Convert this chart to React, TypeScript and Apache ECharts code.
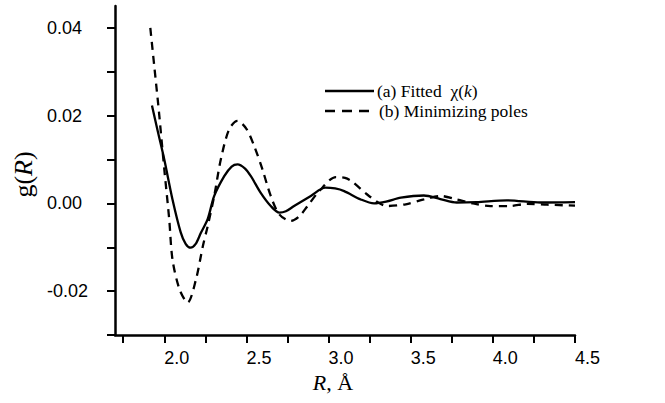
import React, { useEffect, useRef } from "react";
import * as echarts from "echarts";

// Fitted chi(k) curve: [R, g(R)]
const fittedR = [1.925, 1.96, 2.0, 2.05, 2.1, 2.13, 2.16, 2.19, 2.223, 2.264, 2.304, 2.365, 2.41, 2.446, 2.49, 2.527, 2.587, 2.648, 2.7, 2.74, 2.79, 2.892, 2.98, 3.04, 3.095, 3.196, 3.277, 3.35, 3.44, 3.58, 3.68, 3.78, 3.9, 4.085, 4.29, 4.5];
const fittedG = [0.0223, 0.0165, 0.01, 0.0009, -0.0066, -0.0092, -0.0101, -0.0093, -0.0067, -0.0036, 0.0017, 0.0062, 0.0084, 0.0089, 0.008, 0.0062, 0.0024, -0.0006, -0.0021, -0.0018, -0.0006, 0.0017, 0.0036, 0.0034, 0.0028, 0.0009, 0.0, 0.0004, 0.0013, 0.0018, 0.001, 0.0002, 0.0003, 0.0007, 0.0002, 0.0003];

// Minimizing poles curve: [R, g(R)]
const polesR = [1.915, 1.939, 1.96, 1.97, 2.0, 2.03, 2.05, 2.093, 2.142, 2.193, 2.235, 2.264, 2.304, 2.344, 2.395, 2.446, 2.5, 2.547, 2.597, 2.648, 2.7, 2.77, 2.82, 2.872, 2.943, 3.045, 3.1, 3.146, 3.246, 3.358, 3.47, 3.58, 3.68, 3.78, 3.88, 3.985, 4.1, 4.21, 4.33, 4.5];
const polesG = [0.04, 0.0313, 0.0237, 0.0199, 0.0078, -0.0036, -0.0128, -0.0196, -0.0226, -0.0173, -0.0097, -0.0052, 0.0017, 0.01, 0.0169, 0.0188, 0.017, 0.0131, 0.0078, 0.0017, -0.0025, -0.004, -0.003, -0.0006, 0.0028, 0.006, 0.0058, 0.0049, 0.0017, -0.0006, -0.0002, 0.0009, 0.0017, 0.0009, 0.0, -0.0006, -0.0006, -0.0001, -0.0003, -0.0005];

// Axis ticks and labels
const xTickValues = [1.75, 2.0, 2.25, 2.5, 2.75, 3.0, 3.25, 3.5, 3.75, 4.0, 4.25, 4.5];
const xLabelValues = [2.0, 2.5, 3.0, 3.5, 4.0, 4.5];
const yTickValues = [-0.03, -0.02, -0.01, 0.0, 0.01, 0.02, 0.03, 0.04];
const yLabelValues = [-0.02, 0.0, 0.02, 0.04];

const legendNames = ["(a) Fitted  χ(k)", "(b) Minimizing poles"];

export default function App() {
  const ref = useRef<HTMLDivElement>(null);

  useEffect(() => {
    document.body.style.margin = "0";
    const chart = echarts.init(ref.current!, null, { renderer: "svg" });
    const serif = "'Liberation Serif', 'Times New Roman', serif";
    const sans = "'Liberation Sans', Arial, sans-serif";

    chart.setOption({
      animation: false,
      backgroundColor: "#ffffff",
      grid: { left: 115, top: 6, right: 90, bottom: 68, containLabel: false },
      xAxis: {
        type: "value",
        min: 1.7,
        max: 4.5,
        splitLine: { show: false },
        axisLine: { show: true, onZero: false, lineStyle: { color: "#000", width: 2.5 } },
        axisTick: {
          show: true,
          customValues: xTickValues,
          length: 8,
          inside: false,
          lineStyle: { color: "#000", width: 2 },
        },
        axisLabel: {
          customValues: xLabelValues,
          formatter: (v: number) => v.toFixed(1),
          align: "left",
          margin: 14,
          color: "#000",
          fontSize: 18,
          fontFamily: sans,
        },
        name: "{i|R}{n|, Å}",
        nameLocation: "middle",
        nameGap: 36,
        nameTextStyle: {
          padding: [0, 24, 0, 0],
          rich: {
            i: { fontFamily: serif, fontStyle: "italic", fontSize: 22, color: "#000" },
            n: { fontFamily: serif, fontSize: 22, color: "#000" },
          },
        },
      },
      yAxis: {
        type: "value",
        min: -0.03,
        max: 0.045,
        splitLine: { show: false },
        axisLine: { show: true, onZero: false, lineStyle: { color: "#000", width: 2.5 } },
        axisTick: {
          show: true,
          customValues: yTickValues,
          length: 8,
          inside: false,
          lineStyle: { color: "#000", width: 2 },
        },
        axisLabel: {
          customValues: yLabelValues,
          formatter: (v: number) => v.toFixed(2),
          align: "left",
          margin: 68,
          color: "#000",
          fontSize: 18,
          fontFamily: sans,
        },
        name: "{n|g(}{i|R}{n|)}",
        nameLocation: "middle",
        nameRotate: 90,
        nameGap: 72,
        nameTextStyle: {
          padding: [0, 8, 0, 0],
          rich: {
            i: { fontFamily: serif, fontStyle: "italic", fontSize: 26, color: "#000" },
            n: { fontFamily: serif, fontSize: 26, color: "#000" },
          },
        },
      },
      series: [
        {
          name: legendNames[0],
          type: "line",
          data: fittedR.map((r, i) => [r, fittedG[i]]),
          smooth: 0.3,
          showSymbol: false,
          lineStyle: { color: "#000", width: 2.3, type: "solid" },
        },
        {
          name: legendNames[1],
          type: "line",
          data: polesR.map((r, i) => [r, polesG[i]]),
          smooth: 0.3,
          showSymbol: false,
          lineStyle: { color: "#000", width: 2.3, type: [8, 6] },
        },
      ],
      graphic: [
        {
          type: "line",
          shape: { x1: 325, y1: 91, x2: 374, y2: 91 },
          style: { stroke: "#000", lineWidth: 2.3 },
        },
        {
          type: "line",
          shape: { x1: 325, y1: 111, x2: 374, y2: 111 },
          style: { stroke: "#000", lineWidth: 2.3, lineDash: [10, 7] },
        },
        {
          type: "text",
          x: 377,
          y: 91,
          style: {
            text: "{n|(a) Fitted  χ(}{i|k}{n|)}",
            verticalAlign: "middle",
            lineHeight: 16,
            rich: {
              n: { fontFamily: serif, fontSize: 17.5, lineHeight: 16, fill: "#000" },
              i: { fontFamily: serif, fontSize: 17.5, lineHeight: 16, fontStyle: "italic", fill: "#000" },
            },
          },
        },
        {
          type: "text",
          x: 379,
          y: 111,
          style: {
            text: legendNames[1],
            verticalAlign: "middle",
            fontFamily: serif,
            fontSize: 17.5,
            lineHeight: 16,
            fill: "#000",
          },
        },
      ],
    });

    return () => chart.dispose();
  }, []);

  return <div ref={ref} style={{ width: 665, height: 403 }} />;
}
